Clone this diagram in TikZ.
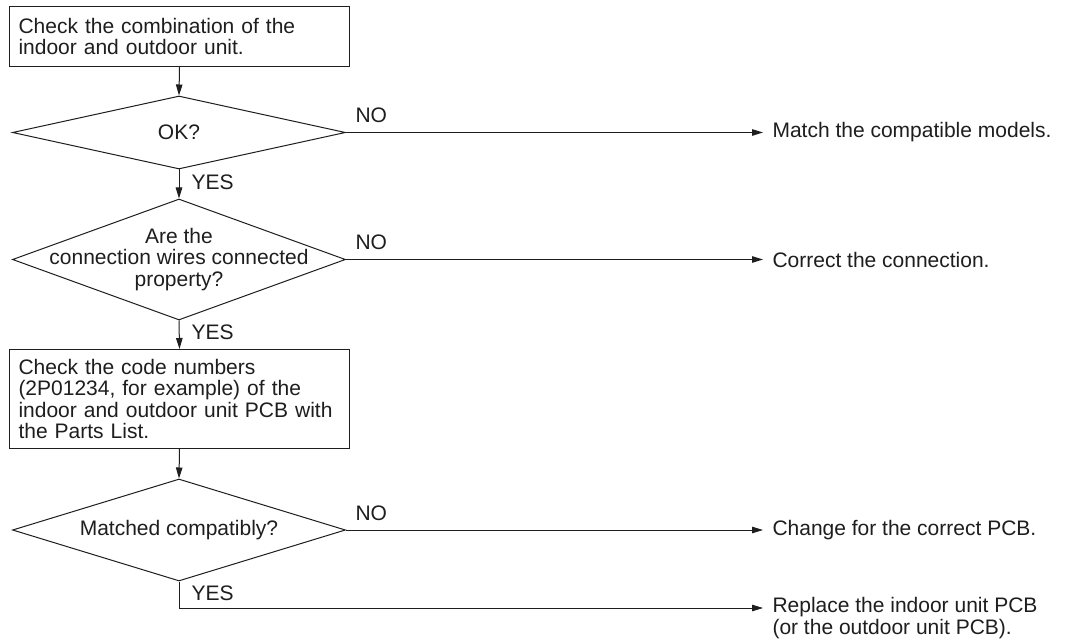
\documentclass[tikz,border=0pt]{standalone}
\usepackage{fontspec}
\setmainfont{Liberation Sans}
\usetikzlibrary{shapes.geometric,arrows.meta}
\definecolor{ink}{RGB}{30,30,30}
\begin{document}
\begin{tikzpicture}[x=1pt,y=-1pt,
  font=\fontsize{21}{21.5}\selectfont, line width=1pt, draw=ink, text=ink,
  box/.style={draw, rectangle, align=left, inner xsep=9pt, inner ysep=0pt, anchor=north west},
  dec/.style={draw, diamond, minimum width=333pt, inner sep=0pt},
  arr/.style={-{Triangle[length=11pt,width=6.5pt]}},
  res/.style={anchor=west, inner xsep=9pt, inner ysep=0pt, align=left},
  lab/.style={anchor=base west, inner sep=0pt}]
\fill[white] (0,0) rectangle (1065,644);
\useasboundingbox (0,0) rectangle (1065,644);

\node[box, text width=322pt, minimum height=60pt] (b1) at (9,6)
  {Check the combination of the\\indoor and outdoor unit.};
\node[dec, minimum height=73pt] (d1) at (179,132.5) {};
\node[align=center] (t1) at (d1.center) {OK?};
\node[dec, minimum height=121pt] (d2) at (179,259.5) {};
\node[align=center] (t2) at (d2.center) {Are the\\connection wires connected\\property?};
\node[box, text width=322pt, minimum height=99pt] (b2) at (9,349)
  {Check the code numbers\\(2P01234, for example) of the\\indoor and outdoor unit PCB with\\the Parts List.};
\node[dec, minimum height=102pt] (d3) at (179,530) {};
\node[align=center] (t3) at (d3.center) {Matched compatibly?};

\node[res] (r1) at (763,132.5) {Match the compatible models.};
\node[res] (r2) at (763,259.5) {Correct the connection.};
\node[res] (r3) at (763,530) {Change for the correct PCB.};
\node[res, anchor=north west] (r4) at (763,597) {Replace the indoor unit PCB\\(or the outdoor unit PCB).};
\coordinate (e4) at (763,608);

\draw[arr] (b1.south) -- (d1.north);
\draw[arr] (d1.south) -- (d2.north);
\draw[arr] (d2.south) -- (b2.north);
\draw[arr] (b2.south) -- (d3.north);
\draw[arr] (d1.east) -- (r1.west);
\draw[arr] (d2.east) -- (r2.west);
\draw[arr] (d3.east) -- (r3.west);
\draw[arr] (d3.south) |- (e4);

\node[lab] (y1) at (191,190) {YES};
\node[lab] (y2) at (191,339) {YES};
\node[lab] (y3) at (191,600) {YES};
\node[lab] (n1) at (355,123) {NO};
\node[lab] (n2) at (355,250) {NO};
\node[lab] (n3) at (355,520) {NO};
\end{tikzpicture}
\end{document}
